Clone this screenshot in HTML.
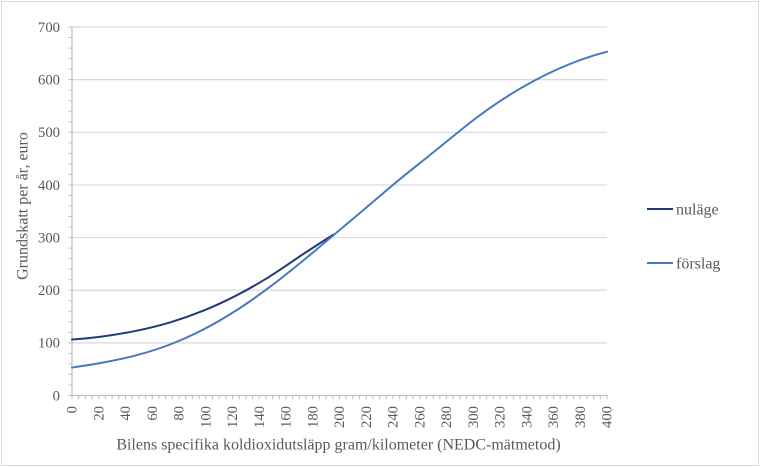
<!DOCTYPE html>
<html>
<head>
<meta charset="utf-8">
<style>
  html, body { margin: 0; padding: 0; background: #ffffff; }
  svg { display: block; }
  text { font-family: "Liberation Serif", "DejaVu Serif", serif; fill: #595959; }
</style>
</head>
<body>
<svg width="762" height="467" viewBox="0 0 762 467" xmlns="http://www.w3.org/2000/svg">
  <rect x="0" y="0" width="762" height="467" fill="#ffffff"/>
  <rect x="1.5" y="1.5" width="757" height="464" fill="none" stroke="#D9D9D9" stroke-width="1"/>

  <!-- gridlines -->
  <g stroke="#D9D9D9" stroke-width="1.2">
    <line x1="72" y1="27.02" x2="607" y2="27.02"/>
    <line x1="72" y1="79.66" x2="607" y2="79.66"/>
    <line x1="72" y1="132.3" x2="607" y2="132.3"/>
    <line x1="72" y1="184.94" x2="607" y2="184.94"/>
    <line x1="72" y1="237.58" x2="607" y2="237.58"/>
    <line x1="72" y1="290.22" x2="607" y2="290.22"/>
    <line x1="72" y1="342.86" x2="607" y2="342.86"/>
  </g>

  <!-- axes -->
  <line x1="72" y1="27" x2="72" y2="395.5" stroke="#BFBFBF" stroke-width="1.2"/>
  <line x1="72" y1="395.5" x2="607.5" y2="395.5" stroke="#BFBFBF" stroke-width="1.2"/>
  <!-- y ticks every 20 -->
  <line x1="70.2" y1="396" x2="70.2" y2="26" stroke="#BFBFBF" stroke-width="3.6" stroke-dasharray="1 9.528"/>
  <!-- x ticks every 5 -->
  <line x1="71.5" y1="397.4" x2="608" y2="397.4" stroke="#BFBFBF" stroke-width="3.6" stroke-dasharray="1 5.6875"/>

  <!-- y labels -->
  <g font-size="14.67" text-anchor="end">
    <text x="60" y="400.3">0</text>
    <text x="60" y="347.7">100</text>
    <text x="60" y="295.0">200</text>
    <text x="60" y="242.4">300</text>
    <text x="60" y="189.8">400</text>
    <text x="60" y="137.1">500</text>
    <text x="60" y="84.5">600</text>
    <text x="60" y="31.9">700</text>
  </g>

  <!-- x labels -->
  <g font-size="14.67" text-anchor="end">
    <text transform="translate(76.7,406) rotate(-90)">0</text>
    <text transform="translate(103.45,406) rotate(-90)">20</text>
    <text transform="translate(130.2,406) rotate(-90)">40</text>
    <text transform="translate(156.95,406) rotate(-90)">60</text>
    <text transform="translate(183.7,406) rotate(-90)">80</text>
    <text transform="translate(210.45,406) rotate(-90)">100</text>
    <text transform="translate(237.2,406) rotate(-90)">120</text>
    <text transform="translate(263.95,406) rotate(-90)">140</text>
    <text transform="translate(290.7,406) rotate(-90)">160</text>
    <text transform="translate(317.45,406) rotate(-90)">180</text>
    <text transform="translate(344.2,406) rotate(-90)">200</text>
    <text transform="translate(370.95,406) rotate(-90)">220</text>
    <text transform="translate(397.7,406) rotate(-90)">240</text>
    <text transform="translate(424.45,406) rotate(-90)">260</text>
    <text transform="translate(451.2,406) rotate(-90)">280</text>
    <text transform="translate(477.95,406) rotate(-90)">300</text>
    <text transform="translate(504.7,406) rotate(-90)">320</text>
    <text transform="translate(531.45,406) rotate(-90)">340</text>
    <text transform="translate(558.2,406) rotate(-90)">360</text>
    <text transform="translate(584.95,406) rotate(-90)">380</text>
    <text transform="translate(611.7,406) rotate(-90)">400</text>
  </g>

  <!-- axis titles -->
  <text x="338.5" y="449.5" font-size="16" text-anchor="middle">Bilens specifika koldioxidutsläpp gram/kilometer (NEDC-mätmetod)</text>
  <text transform="translate(27.5,206) rotate(-90)" font-size="16" text-anchor="middle">Grundskatt per år, euro</text>

  <!-- nuläge -->
  <path fill="none" stroke="#1F3C72" stroke-width="2" stroke-linejoin="round" stroke-linecap="round"
    d="M72,339.5 C82.4,338.8 92.5,337.9 103.3,336.4
       C114.1,334.9 125.6,333.0 136.7,330.7
       C147.8,328.4 158.9,325.7 170,322.4
       C181.1,319.1 192.2,315.2 203.3,310.7
       C214.4,306.2 225.6,301.0 236.7,295.3
       C247.8,289.6 258.9,283.2 270,276.3
       C281.1,269.4 292.7,261.0 303.3,254.0
       C313.9,247.0 328.5,237.75 333.5,234.5"/>

  <!-- förslag -->
  <path fill="none" stroke="#4878C0" stroke-width="2" stroke-linejoin="round" stroke-linecap="round"
    d="M72,367.5 C82.4,366.0 92.5,364.55 103.3,362.5
       C114.1,360.45 125.6,358.2 136.7,355.2
       C147.8,352.2 158.9,348.8 170,344.5
       C181.1,340.2 192.2,335.2 203.3,329.5
       C214.4,323.8 225.6,317.2 236.7,310.1
       C247.8,303.0 258.9,295.1 270,286.8
       C281.1,278.5 293.3,268.6 303.3,260.5
       C313.3,252.4 320,246.5 330,238.1
       C340,229.7 352.2,219.5 363.3,210.1
       C374.4,200.7 385.6,191.0 396.7,181.8
       C407.8,172.6 418.9,164.0 430,155
       C441.1,146.0 452.2,136.9 463.3,128
       Q535.15,70.52 607,51.7"/>

  <!-- legend -->
  <line x1="647" y1="209" x2="673" y2="209" stroke="#1F3C72" stroke-width="2"/>
  <text x="676" y="214.5" font-size="16">nuläge</text>
  <line x1="647" y1="263" x2="673" y2="263" stroke="#4878C0" stroke-width="2"/>
  <text x="676" y="268.5" font-size="16">förslag</text>
</svg>
</body>
</html>
